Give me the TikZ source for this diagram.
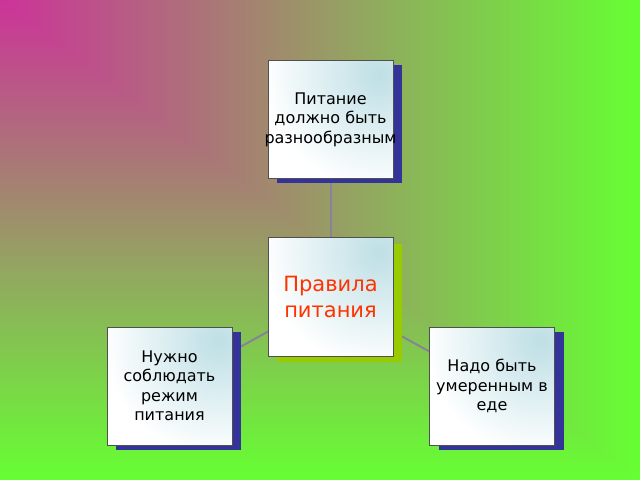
\documentclass[tikz,border=0pt]{standalone}
\usepackage{fontspec}
\setmainfont{DejaVu Sans}
\usetikzlibrary{shadows}
\definecolor{bgmag}{HTML}{CC3399}
\definecolor{bggrn}{HTML}{66FF33}
\definecolor{shblue}{HTML}{333399}
\definecolor{shgreen}{HTML}{99CC00}
\definecolor{boxcyan}{HTML}{BEDFE5}
\definecolor{boxline}{HTML}{505050}
\definecolor{conn}{HTML}{85859A}
\definecolor{titlered}{HTML}{FF3300}
\pgfdeclarelayer{bglayer}
\pgfdeclarelayer{linelayer}
\pgfsetlayers{bglayer,linelayer,main}
\tikzset{
  card/.style={draw=boxline, line width=1bp, fill=white,
    minimum width=125bp, minimum height=118bp, inner sep=0pt,
    align=center, text=black,
    font=\fontsize{16bp}{19.5bp}\selectfont,
    path picture={\shade[inner color=boxcyan, outer color=white]
      ([xshift=-14bp,yshift=-14bp]path picture bounding box.north east) circle (115bp);}},
  blueshadow/.style={drop shadow={shadow xshift=9bp, shadow yshift=-5bp, fill=shblue, opacity=1}},
  greenshadow/.style={drop shadow={shadow xshift=9bp, shadow yshift=-6bp, fill=shgreen, opacity=1}},
  connector/.style={draw=conn, line width=2bp}
}
\begin{document}
\begin{tikzpicture}[x=1bp, y=-1bp]
\path[use as bounding box] (0,0) rectangle (640,480);
\begin{pgfonlayer}{bglayer}
  \shade[left color=bgmag, right color=bggrn] (0,0) rectangle (640,480);
  \shade[top color=bgmag, bottom color=bggrn] (0,0) -- (0,480) -- (640,480) -- cycle;
\end{pgfonlayer}
\node[card, blueshadow] (top) at (330.5,119.5) {Питание\\должно быть\\\makebox[0pt][c]{разнообразным}};
\node[card, greenshadow, text=titlered, font=\fontsize{21bp}{26bp}\selectfont] (center) at (330.5,297) {Правила\\питания};
\node[card, blueshadow] (left) at (169.5,386) {Нужно\\соблюдать\\режим\\питания};
\node[card, blueshadow] (right) at (492,386) {Надо быть\\умеренным в\\еде};
\begin{pgfonlayer}{linelayer}
  \draw[connector] (center.center) -- (top.center);
  \draw[connector] (center.center) -- (left.center);
  \draw[connector] (center.center) -- (right.center);
\end{pgfonlayer}
\end{tikzpicture}
\end{document}
